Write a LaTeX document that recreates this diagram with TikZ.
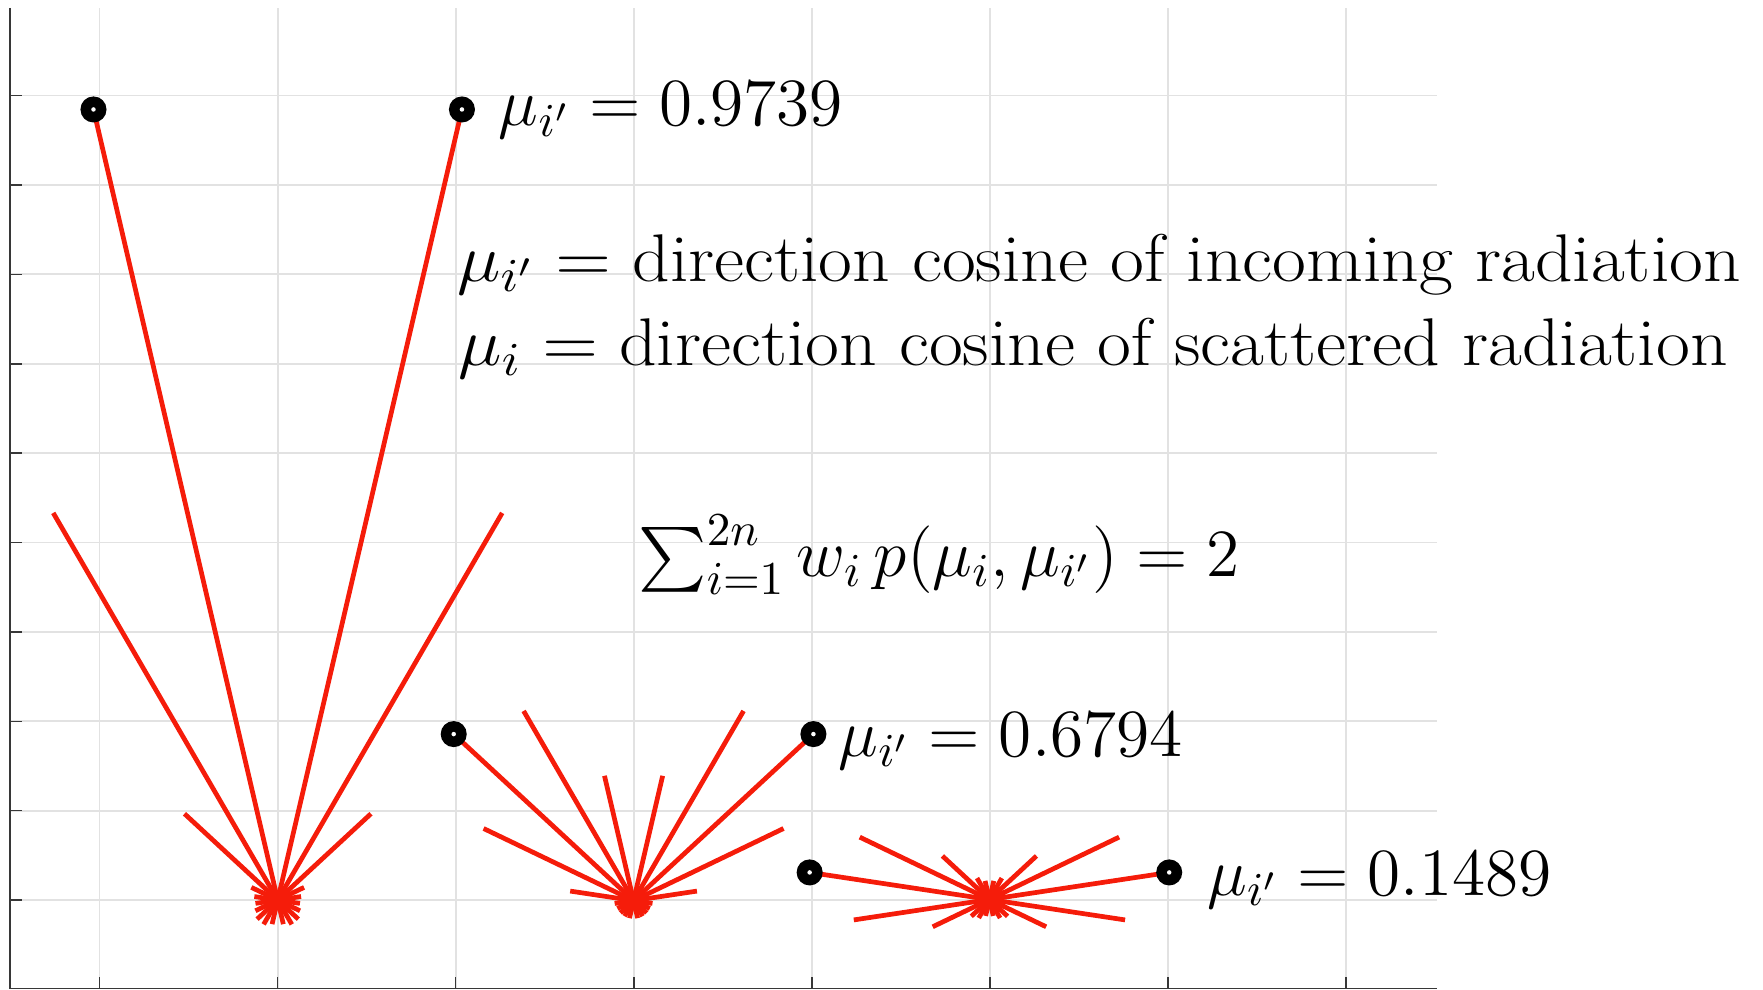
\RequirePackage{fix-cm}
\documentclass[tikz,border=0pt]{standalone}
\usepackage{amsmath}
\usepackage{graphicx}
\definecolor{myred}{RGB}{245,28,10}
\definecolor{gridgray}{RGB}{226,226,226}
\definecolor{axisgray}{RGB}{55,55,55}
\newcommand{\scatfan}[6]{%
  % #1 centre name, #2 mu', #3 length to dot, #4 upward list, #5 downward list, #6 blob radius
  \foreach \m/\L in {#4} {
    \draw[ray] (#1) -- ++({\L*sqrt(1-\m*\m)},{-\L*\m});
    \draw[ray] (#1) -- ++({-\L*sqrt(1-\m*\m)},{-\L*\m});
  }
  \foreach \m/\L in {#5} {
    \draw[ray] (#1) -- ++({\L*sqrt(1-\m*\m)},{\L*\m});
    \draw[ray] (#1) -- ++({-\L*sqrt(1-\m*\m)},{\L*\m});
  }
  \fill[myred] (#1) circle (#6);
  \path (#1) ++({-#3*sqrt(1-#2*#2)},{-#3*#2}) coordinate (#1l);
  \path (#1) ++({#3*sqrt(1-#2*#2)},{-#3*#2}) coordinate (#1r);
  \draw[ray] (#1) -- (#1l);
  \draw[ray] (#1) -- (#1r);
  \node[ringdot] (#1dl) at (#1l) {};
  \node[ringdot] (#1dr) at (#1r) {};
  \fill[white] (#1l) circle (0.5pt);
  \fill[white] (#1r) circle (0.5pt);
}
\begin{document}
\begin{tikzpicture}[x=0.25pt,y=-0.25pt,
  gridline/.style={draw=gridgray,line width=0.4pt},
  axisline/.style={draw=axisgray,line width=0.35pt},
  ray/.style={draw=myred,line width=1.05pt},
  ringdot/.style={circle,fill=black,minimum size=5.8pt,inner sep=0pt},
  lbl/.style={anchor=base west,inner sep=0pt,font=\fontsize{15}{18}\selectfont}
]
\useasboundingbox (0,0) rectangle (1568,880);
% grid
\foreach \k in {0,...,9} {
  \draw[gridline] (9,{800.5-79.5*\k}) -- (1278,{800.5-79.5*\k});
}
\foreach \k in {0,...,7} {
  \draw[gridline] ({88.5+158.4*\k},7) -- ({88.5+158.4*\k},879);
}
% axes and ticks
\draw[axisline] (9,7) -- (9,879) -- (1278,879);
\foreach \k in {0,...,9} {
  \draw[axisline] (9,{800.5-79.5*\k}) -- (20,{800.5-79.5*\k});
}
\foreach \k in {0,...,7} {
  \draw[axisline] ({88.5+158.4*\k},879) -- ({88.5+158.4*\k},869);
}
% fans
\coordinate (c1) at (247,800.5);
\coordinate (c2) at (563.5,801);
\coordinate (c3) at (880,800);
\scatfan{c1}{0.9739}{722}{0.8651/398,0.6794/113,0.4334/26,0.1489/21}{0.1489/20,0.4334/22,0.6794/25,0.8651/25,0.9739/22}{1.8pt}
\scatfan{c2}{0.6794}{218}{0.9739/114,0.8651/195,0.4334/148,0.1489/57}{0.1489/17,0.4334/16,0.6794/16,0.8651/16,0.9739/16}{2.1pt}
\scatfan{c3}{0.1489}{161.7}{0.4334/128,0.6794/57,0.8651/22,0.9739/17}{0.1489/122,0.4334/56,0.6794/22,0.8651/19,0.9739/15}{2.1pt}
% labels
\node[lbl] (t1) at (443,112) {$\mu_{i'} = 0.9739$};
\node[lbl] (t2) at (406,250) {\scalebox{1.091}[1]{$\mu_{i'} = \text{direction cosine of incoming radiation}$}};
\node[lbl] (t3) at (407,325) {\scalebox{1.092}[1]{$\mu_{i} = \text{direction cosine of scattered radiation}$}};
\node[lbl] (t4) at (567,513) {$\sum_{i=1}^{2n} w_i\, p(\mu_i, \mu_{i'}) = 2$};
\node[lbl] (t5) at (745,673) {$\mu_{i'} = 0.6794$};
\node[lbl] (t6) at (1073,796) {$\mu_{i'} = 0.1489$};
\end{tikzpicture}
\end{document}
